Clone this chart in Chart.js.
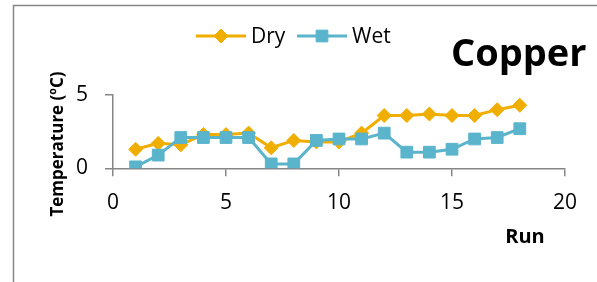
<!DOCTYPE html>
<html>
<head>
<meta charset="utf-8">
<script src="https://cdn.jsdelivr.net/npm/chart.js@4"></script>
<style>
  html, body { margin: 0; padding: 0; background: #fff; }
  #wrap { width: 597px; height: 282px; position: relative; }
</style>
</head>
<body>
<div id="wrap"><canvas id="myChart" width="597" height="282"></canvas></div>
<script>
// values
const runs = [1, 2, 3, 4, 5, 6, 7, 8, 9, 10, 11, 12, 13, 14, 15, 16, 17, 18];
const dry = [1.3, 1.7, 1.6, 2.3, 2.3, 2.4, 1.4, 1.9, 1.8, 1.8, 2.4, 3.6, 3.6, 3.7, 3.6, 3.6, 4.0, 4.3];
const wet = [0.1, 0.9, 2.1, 2.1, 2.1, 2.1, 0.3, 0.3, 1.9, 2.0, 2.0, 2.4, 1.1, 1.1, 1.3, 2.0, 2.1, 2.7];
const xTicks = [0, 5, 10, 15, 20];
const yTicks = [0, 5];
const seriesNames = ['Dry', 'Wet'];

const FONT = "'Open Sans', sans-serif";
const AXIS = '#868686';
const ORANGE = '#F0AE00';
const BLUE = '#5AB4CC';

function pts(ys) {
    return runs.map((r, i) => ({ x: r, y: ys[i] }));
}

// frame, titles and legend drawn on top of the chart
const extras = {
    id: 'extras',
    beforeDraw(chart) {
        const c = chart.ctx;
        c.save();
        c.strokeStyle = AXIS;
        c.lineWidth = 1.5;
        c.strokeRect(13.5, 5.5, 700, 700);
        c.restore();
    },
    afterDraw(chart) {
        const c = chart.ctx;
        c.save();
        c.fillStyle = '#000';

        // chart title
        c.font = "bold 38px " + FONT;
        c.textAlign = 'left';
        c.textBaseline = 'alphabetic';
        c.fillText('Copper', 451, 66);

        // x axis title
        c.font = "bold 20px " + FONT;
        c.textAlign = 'center';
        c.fillText('Run', 525, 243);

        // y axis title
        c.save();
        c.translate(62.5, 144);
        c.rotate(-Math.PI / 2);
        c.font = "bold 17px " + FONT;
        c.textAlign = 'center';
        c.fillText('Temperature (\u00BAC)', 0, 0);
        c.restore();

        // legend
        const items = [
            { x: 196, ds: chart.data.datasets[0] },
            { x: 297, ds: chart.data.datasets[1] }
        ];
        items.forEach(it => {
            const ds = it.ds;
            c.strokeStyle = ds.borderColor;
            c.lineWidth = 3;
            c.beginPath();
            c.moveTo(it.x, 36);
            c.lineTo(it.x + 50, 36);
            c.stroke();
            c.fillStyle = ds.pointBackgroundColor;
            c.strokeStyle = ds.pointBorderColor;
            c.lineWidth = 1;
            Chart.helpers.drawPoint(c, { pointStyle: ds.pointStyle, radius: ds.pointRadius, borderWidth: 1 }, it.x + 25, 36);
            c.fillStyle = '#000';
            c.font = "21px " + FONT;
            c.textAlign = 'left';
            c.textBaseline = 'alphabetic';
            c.fillText(ds.label, it.x + 55, 43);
        });
        c.restore();
    }
};

const ctx = document.getElementById('myChart').getContext('2d');
const myChart = new Chart(ctx, {
    type: 'scatter',
    data: {
        datasets: [
            {
                label: seriesNames[0],
                data: pts(dry),
                showLine: true,
                borderColor: ORANGE,
                borderWidth: 3,
                pointStyle: 'rectRot',
                pointRadius: 7,
                pointBackgroundColor: ORANGE,
                pointBorderColor: ORANGE,
                pointBorderWidth: 1,
                order: 2
            },
            {
                label: seriesNames[1],
                data: pts(wet),
                showLine: true,
                borderColor: BLUE,
                borderWidth: 3,
                pointStyle: 'rect',
                pointRadius: 8.3,
                pointBackgroundColor: BLUE,
                pointBorderColor: BLUE,
                pointBorderWidth: 1,
                order: 1
            }
        ]
    },
    options: {
        responsive: false,
        animation: false,
        layout: { padding: { left: 0, top: 95, right: 32, bottom: 0 } },
        plugins: {
            legend: { display: false },
            title: { display: false },
            tooltip: { enabled: false }
        },
        scales: {
            x: {
                type: 'linear',
                min: 0,
                max: 20,
                afterBuildTicks: (s) => { s.ticks = xTicks.map(v => ({ value: v })); },
                afterFit: (s) => { s.height = 113.7; },
                border: { color: AXIS, width: 1.5 },
                grid: { drawOnChartArea: false, drawTicks: true, tickLength: 8, color: AXIS, lineWidth: 1.5 },
                ticks: { color: '#000', font: { family: FONT, size: 21 }, padding: 14, maxRotation: 0 }
            },
            y: {
                type: 'linear',
                min: 0,
                max: 5,
                afterBuildTicks: (s) => { s.ticks = yTicks.map(v => ({ value: v })); },
                afterFit: (s) => { s.width = 113; },
                border: { color: AXIS, width: 1.5 },
                grid: { drawOnChartArea: false, drawTicks: true, tickLength: 8, color: AXIS, lineWidth: 1.5 },
                ticks: { color: '#000', font: { family: FONT, size: 21 }, padding: 17 }
            }
        }
    },
    plugins: [extras]
});
</script>
</body>
</html>
